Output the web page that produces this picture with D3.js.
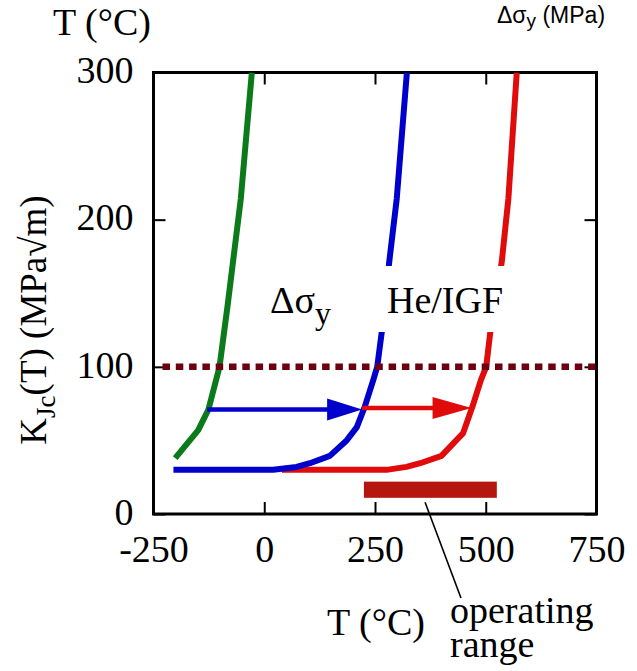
<!DOCTYPE html>
<html>
<head>
<meta charset="utf-8">
<script src="https://cdn.jsdelivr.net/npm/d3@7"></script>
<style>
  body { margin: 0; background: #fff; }
  svg { display: block; }
</style>
</head>
<body>
<svg id="chart" width="637" height="671"></svg>
<script>
// Fracture toughness K_Jc(T) transition curves
const greenT = [-201, -149, -126, -101, -83, -53, -28];
const greenK = [38, 57, 71, 100, 141, 214, 300];

const blueT = [-205, 20, 73, 103, 148, 186, 209, 227, 246, 255, 265, 282, 299, 322];
const blueK = [30, 30, 32, 34.5, 39.5, 50, 59, 73, 91, 100, 123, 171, 214, 300];

const redT = [40, 276, 321, 352, 400, 449, 470, 489, 501, 510, 536, 551, 570];
const redK = [30, 30, 32, 34.5, 39.5, 55, 73, 91, 100, 123, 171, 214, 300];

// Shift arrows (from green to blue, from blue to red)
const arrowFrom = [-129, 221];
const arrowTo = [221, 468];
const arrowK = [71, 72];

// Reference toughness level and operating temperature window
const refK = 100;
const opRange = [225, 525];
const opK = [11, 22];

const xTicks = [-250, 0, 250, 500, 750];
const yTicks = [0, 100, 200, 300];

const svg = d3.select("#chart");
const SERIF = "'Liberation Serif', 'Times New Roman', serif";
const SANS = "'Liberation Sans', Arial, sans-serif";

const x = d3.scaleLinear().domain([-250, 750]).range([153.5, 596.5]);
const y = d3.scaleLinear().domain([0, 300]).range([514, 72.5]);

const pL = x.range()[0], pR = x.range()[1];
const pT = y.range()[1], pB = y.range()[0];
const fmt = d => String(d);

svg.append("defs").append("clipPath").attr("id", "plot")
  .append("rect").attr("x", pL).attr("y", pT)
  .attr("width", pR - pL).attr("height", pB - pT);

// Axes with inward ticks
function styleAxis(g) {
  g.select(".domain").remove();
  g.selectAll(".tick line").attr("stroke", "#000").attr("stroke-width", 2);
  g.selectAll(".tick text").attr("font-family", SERIF).attr("font-size", 38).attr("fill", "#000");
}
svg.append("g").attr("transform", `translate(0,${pB})`)
  .call(d3.axisBottom(x).tickValues(xTicks).tickSizeInner(-12).tickSizeOuter(0).tickPadding(21).tickFormat(fmt))
  .call(styleAxis);
svg.append("g").attr("transform", `translate(0,${pT})`)
  .call(d3.axisTop(x).tickValues(xTicks).tickSizeInner(-12).tickSizeOuter(0).tickFormat(""))
  .call(styleAxis);
svg.append("g").attr("transform", `translate(${pL},0)`)
  .call(d3.axisLeft(y).tickValues(yTicks).tickSizeInner(-12).tickSizeOuter(0).tickPadding(20).tickFormat(fmt))
  .call(styleAxis)
  .call(g => g.selectAll(".tick text").attr("dy", "0.27em"));
svg.append("g").attr("transform", `translate(${pR},0)`)
  .call(d3.axisRight(y).tickValues(yTicks).tickSizeInner(-12).tickSizeOuter(0).tickFormat(""))
  .call(styleAxis);

// Frame
svg.append("rect").attr("x", pL).attr("y", pT)
  .attr("width", pR - pL).attr("height", pB - pT)
  .attr("fill", "none").attr("stroke", "#000").attr("stroke-width", 3);

const plot = svg.append("g").attr("clip-path", "url(#plot)");

// Operating range bar
plot.append("rect")
  .attr("x", x(opRange[0])).attr("width", x(opRange[1]) - x(opRange[0]))
  .attr("y", y(opK[1])).attr("height", y(opK[0]) - y(opK[1]))
  .attr("fill", "#b5170e");

// Curves
const line = d3.line().x(d => x(d[0])).y(d => y(d[1]));
const series = [
  { t: redT, k: redK, color: "#e00b0b" },
  { t: blueT, k: blueK, color: "#0000cc" },
  { t: greenT, k: greenK, color: "#0b7a1a" }
];
series.forEach(s => {
  plot.append("path")
    .datum(d3.zip(s.t, s.k))
    .attr("d", line)
    .attr("fill", "none")
    .attr("stroke", s.color)
    .attr("stroke-width", 6)
    .attr("stroke-linejoin", "round");
});

// Shift arrows
const arrowColors = ["#0000cc", "#e00b0b"];
const headLen = [35, 39], headHalf = [11, 11];
arrowFrom.forEach((a, i) => {
  const x0 = x(a), x1 = x(arrowTo[i]), yy = y(arrowK[i]);
  plot.append("line")
    .attr("x1", x0).attr("x2", x1 - headLen[i] + 2)
    .attr("y1", yy).attr("y2", yy)
    .attr("stroke", arrowColors[i]).attr("stroke-width", 4.5);
  plot.append("path")
    .attr("d", `M${x1},${yy}L${x1 - headLen[i]},${yy - headHalf[i]}L${x1 - headLen[i]},${yy + headHalf[i]}Z`)
    .attr("fill", arrowColors[i]);
});

// Reference level K = 100
plot.append("line")
  .attr("x1", pL + 9).attr("x2", pR)
  .attr("y1", y(refK)).attr("y2", y(refK))
  .attr("stroke", "#6d0010").attr("stroke-width", 6.5)
  .attr("stroke-dasharray", "7.5,5.8");

// In-plot labels
const lbl1 = svg.append("text")
  .attr("x", 270).attr("y", 313)
  .attr("font-family", SERIF).attr("font-size", 38).attr("fill", "#000");
lbl1.append("tspan").text("Δσ");
lbl1.append("tspan").attr("font-size", 32).attr("dy", 11).text("y");

const lbl2 = svg.append("text")
  .attr("x", 387).attr("y", 313)
  .attr("font-family", SERIF).attr("font-size", 38).attr("fill", "#000")
  .text("He/IGF");
const bb = lbl2.node().getBBox();
svg.insert("rect", () => lbl2.node())
  .attr("x", bb.x - 11).attr("y", bb.y - 13)
  .attr("width", bb.width + 17).attr("height", bb.height + 24)
  .attr("fill", "#fff");

// Axis titles
svg.append("text")
  .attr("x", 53).attr("y", 35)
  .attr("font-family", SERIF).attr("font-size", 38).attr("fill", "#000")
  .text("T (°C)");

svg.append("text")
  .attr("x", 376).attr("y", 635).attr("text-anchor", "middle")
  .attr("font-family", SERIF).attr("font-size", 38).attr("fill", "#000")
  .text("T (°C)");

const ylab = svg.append("text")
  .attr("transform", "translate(46,320) rotate(-90)")
  .attr("text-anchor", "middle")
  .attr("font-family", SERIF).attr("font-size", 37).attr("fill", "#000");
ylab.append("tspan").text("K");
ylab.append("tspan").attr("font-size", 27).attr("dy", 9).text("Jc");
ylab.append("tspan").attr("dy", -9).text("(T) (MPa√m)");

const tr = svg.append("text")
  .attr("x", 497).attr("y", 23)
  .attr("font-family", SANS).attr("font-size", 23).attr("fill", "#000");
tr.append("tspan").text("Δσ");
tr.append("tspan").attr("font-size", 19).attr("dy", 4).text("y");
tr.append("tspan").attr("dy", -4).text(" (MPa)");

// Operating range annotation
svg.append("line")
  .attr("x1", x(363)).attr("y1", y(8))
  .attr("x2", 461).attr("y2", 598)
  .attr("stroke", "#000").attr("stroke-width", 1.6);
const op = svg.append("text")
  .attr("font-family", SERIF).attr("font-size", 38).attr("fill", "#000");
op.append("tspan").attr("x", 450).attr("y", 623).text("operating");
op.append("tspan").attr("x", 450).attr("y", 657).text("range");
</script>
</body>
</html>
